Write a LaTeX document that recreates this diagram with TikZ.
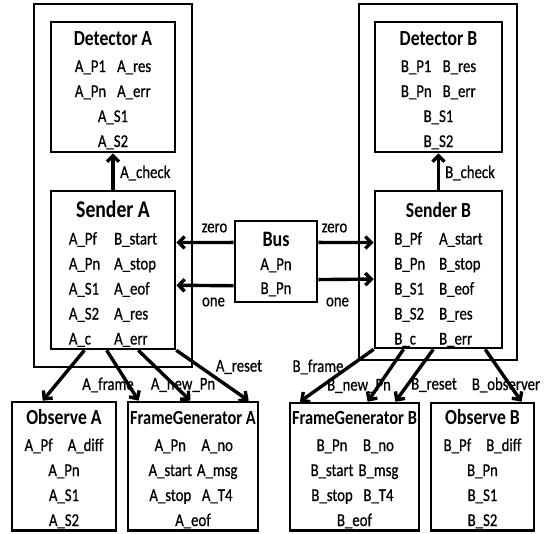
\documentclass[tikz,border=0pt]{standalone}
\usepackage{fontspec}
\setmainfont{Carlito}[FakeStretch=0.82, UprightFeatures={FakeBold=0.6}]
\usetikzlibrary{arrows.meta,calc}
\newcommand{\ttl}[2]{\multicolumn{2}{c}{\makebox[0pt][c]{\fontsize{#1}{25}\selectfont\bfseries #2}}\\[2pt]}
\newcommand{\onecol}[1]{\multicolumn{2}{c}{\makebox[0pt][c]{#1}}}
\tikzset{
  box/.style={draw, line width=2.6pt, rectangle, inner sep=0pt},
  txt/.style={font=\fontsize{18}{25}\selectfont, inner sep=0pt, align=center},
  lbl/.style={font=\fontsize{18}{20}\selectfont, inner sep=0pt},
  arr/.style={line width=3.4pt, -{Straight Barb[length=6pt,width=12pt]}},
}
\begin{document}
\begin{tikzpicture}[x=1pt,y=-1pt]
\useasboundingbox (0,0) rectangle (548,533);
% outer boxes
\node[box, minimum width=158, minimum height=363] (outA) at (113,185.5) {};
\node[box, minimum width=158, minimum height=356] (outB) at (438,182) {};
% boxes
\node[box, minimum width=124, minimum height=130] (detA) at (113,87) {};
\node[box, minimum width=124, minimum height=158] (sendA) at (113,270) {};
\node[box, minimum width=127, minimum height=130] (detB) at (438.5,87) {};
\node[box, minimum width=127, minimum height=157] (sendB) at (438.5,269.5) {};
\node[box, minimum width=82, minimum height=81] (bus) at (276,261.5) {};
\node[box, minimum width=104, minimum height=128.5] (obsA) at (64,466.25) {};
\node[box, minimum width=130, minimum height=128.5] (fgA) at (193,466.25) {};
\node[box, minimum width=129, minimum height=127.5] (fgB) at (354.5,466.75) {};
\node[box, minimum width=103, minimum height=127.5] (obsB) at (482.5,466.75) {};
% texts
\node[txt] (detAt) at (113,91) {\begin{tabular}{@{}l@{\hspace{11pt}}l@{}}\ttl{21.5}{Detector A}A\_P1 & A\_res\\ A\_Pn & A\_err\\ \onecol{A\_S1}\\ \onecol{A\_S2}\end{tabular}};
\node[txt] (detBt) at (438.5,91) {\begin{tabular}{@{}l@{\hspace{11pt}}l@{}}\ttl{21.5}{Detector B}B\_P1 & B\_res\\ B\_Pn & B\_err\\ \onecol{B\_S1}\\ \onecol{B\_S2}\end{tabular}};
\node[txt] (sendAt) at (113,276) {\begin{tabular}{@{}l@{\hspace{14pt}}l@{}}\ttl{24}{Sender A}A\_Pf & B\_start\\ A\_Pn & A\_stop\\ A\_S1 & A\_eof\\ A\_S2 & A\_res\\ A\_c & A\_err\end{tabular}};
\node[txt] (sendBt) at (438.5,276) {\begin{tabular}{@{}l@{\hspace{14pt}}l@{}}\ttl{21.5}{Sender B}B\_Pf & A\_start\\ B\_Pn & B\_stop\\ B\_S1 & B\_eof\\ B\_S2 & B\_res\\ B\_c & B\_err\end{tabular}};
\node[txt] (bust) at (276,265) {\begin{tabular}{@{}c@{}}{\fontsize{22}{25}\selectfont\bfseries Bus}\\[-1pt] A\_Pn\\[-1pt] B\_Pn\end{tabular}};
\node[txt] (obsAt) at (64,470) {\begin{tabular}{@{}l@{\hspace{15pt}}l@{}}\ttl{21.5}{Observe A}A\_Pf & A\_diff\\ \onecol{A\_Pn}\\ \onecol{A\_S1}\\ \onecol{A\_S2}\end{tabular}};
\node[txt] (obsBt) at (482.5,470) {\begin{tabular}{@{}l@{\hspace{15pt}}l@{}}\ttl{21.5}{Observe B}B\_Pf & B\_diff\\ \onecol{B\_Pn}\\ \onecol{B\_S1}\\ \onecol{B\_S2}\end{tabular}};
\node[txt] (fgAt) at (193,470) {\begin{tabular}{@{}c@{\hspace{5pt}}c@{}}\ttl{20}{FrameGenerator A}A\_Pn & A\_no\\ A\_start & A\_msg\\ A\_stop & A\_T4\\ \onecol{A\_eof}\end{tabular}};
\node[txt] (fgBt) at (354.5,470) {\begin{tabular}{@{}c@{\hspace{5pt}}c@{}}\ttl{20}{FrameGenerator B}B\_Pn & B\_no\\ B\_start & B\_msg\\ B\_stop & B\_T4\\ \onecol{B\_eof}\end{tabular}};
% check arrows
\draw[arr] (sendA.north) -- (detA.south);
\draw[arr] (sendB.north) -- (detB.south);
\node[lbl, anchor=west] (chkA) at (120,173) {A\_check};
\node[lbl, anchor=west] (chkB) at (445,173) {B\_check};
% bus arrows
\draw[arr] ($(bus.north west)!0.272!(bus.south west)$) -- ($(sendA.north east)!0.329!(sendA.south east)$);
\draw[arr] ($(bus.north west)!0.79!(bus.south west)$) -- ($(sendA.north east)!0.595!(sendA.south east)$);
\draw[arr] ($(bus.north east)!0.272!(bus.south east)$) -- ($(sendB.north west)!0.331!(sendB.south west)$);
\draw[arr] ($(bus.north east)!0.716!(bus.south east)$) -- ($(sendB.north west)!0.56!(sendB.south west)$);
\node[lbl] (zA) at (214.5,228) {zero};
\node[lbl] (oA) at (213.5,302) {one};
\node[lbl] (zB) at (334.5,228) {zero};
\node[lbl] (oB) at (337.5,302) {one};
% lower arrows A
\draw[arr] ($(sendA.south west)!0.274!(sendA.south east)$) -- ($(obsA.north west)!0.30!(obsA.north east)$);
\draw[arr] ($(sendA.south west)!0.45!(sendA.south east)$) -- ($(fgA.north west)!0.09!(fgA.north east)$);
\draw[arr] ($(sendA.south west)!0.70!(sendA.south east)$) -- ($(fgA.north west)!0.48!(fgA.north east)$);
\draw[arr] (sendA.south east) -- ($(fgA.north west)!0.92!(fgA.north east)$);
\node[lbl] (lfA) at (108,385) {A\_frame};
\node[lbl] (lnA) at (183,385) {A\_new\_Pn};
\node[lbl] (lrA) at (239,367) {A\_reset};
% lower arrows B
\draw[arr] (sendB.south west) -- ($(fgB.north west)!0.085!(fgB.north east)$);
\draw[arr] ($(sendB.south west)!0.23!(sendB.south east)$) -- ($(fgB.north west)!0.60!(fgB.north east)$);
\draw[arr] ($(sendB.south west)!0.46!(sendB.south east)$) -- ($(fgB.north west)!0.81!(fgB.north east)$);
\draw[arr] ($(sendB.south west)!0.86!(sendB.south east)$) -- ($(obsB.north west)!0.87!(obsB.north east)$);
\node[lbl] (lfB) at (318,367) {B\_frame};
\node[lbl] (lnB) at (359,386) {B\_new\_Pn};
\node[lbl] (lrB) at (434,385) {B\_reset};
\node[lbl] (loB) at (506,385) {B\_observer};
\end{tikzpicture}
\end{document}
